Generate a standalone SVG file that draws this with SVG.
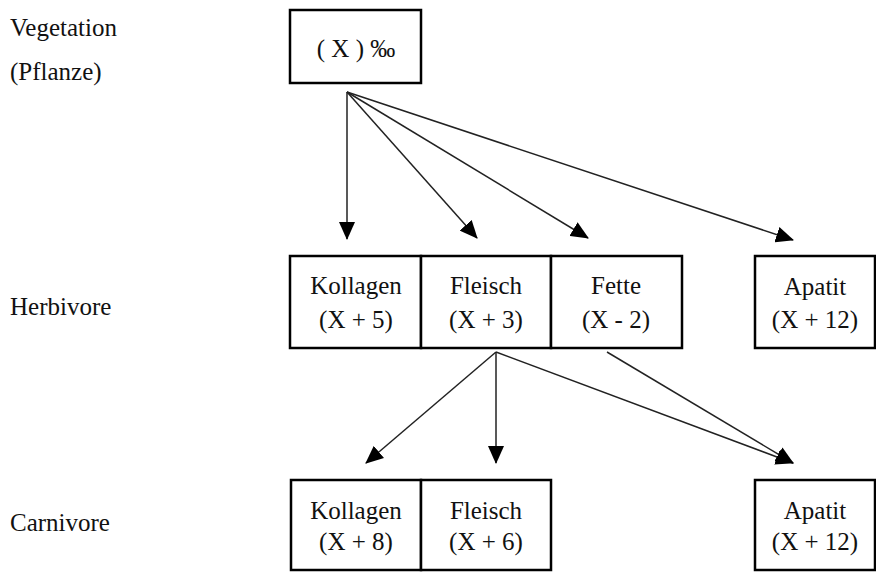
<svg xmlns="http://www.w3.org/2000/svg" width="876" height="572" viewBox="0 0 876 572">
<defs>
<style>
.box{fill:#fff;stroke:#000;stroke-width:2.5}
.t{font-family:'Liberation Serif','Times New Roman',serif;font-size:25px;fill:#111}
.c{text-anchor:middle}
.con line{stroke:#222;stroke-width:1.5;marker-end:url(#ah)}
</style>
<marker id="ah" markerUnits="userSpaceOnUse" markerWidth="18" markerHeight="16" viewBox="0 0 18 16" refX="17" refY="8" orient="auto">
<path d="M0,0 L18,8 L0,16 Z" fill="#000"/>
</marker>
</defs>
<rect width="876" height="572" fill="#fff"/>
<g id="labels">
<text class="t" x="10" y="36">Vegetation</text>
<text class="t" x="10" y="80">(Pflanze)</text>
<text class="t" x="10" y="315">Herbivore</text>
<text class="t" x="10" y="531">Carnivore</text>
</g>
<g id="vegetation"><rect class="box" x="290" y="10" width="131" height="73"/><text class="t c" x="356" y="57">( X ) ‰</text></g>
<g id="h-kollagen"><rect class="box" x="290" y="256" width="131" height="92"/><text class="t c" x="356" y="294">Kollagen</text><text class="t c" x="356" y="328">(X + 5)</text></g>
<g id="h-fleisch"><rect class="box" x="421" y="256" width="130" height="92"/><text class="t c" x="486" y="294">Fleisch</text><text class="t c" x="486" y="328">(X + 3)</text></g>
<g id="h-fette"><rect class="box" x="551" y="256" width="131" height="92"/><text class="t c" x="616" y="294">Fette</text><text class="t c" x="616" y="328">(X - 2)</text></g>
<g id="h-apatit"><rect class="box" x="755" y="256" width="120" height="92"/><text class="t c" x="815" y="295">Apatit</text><text class="t c" x="815" y="328">(X + 12)</text></g>
<g id="c-kollagen"><rect class="box" x="291" y="480" width="130" height="90"/><text class="t c" x="356" y="519">Kollagen</text><text class="t c" x="356" y="550">(X + 8)</text></g>
<g id="c-fleisch"><rect class="box" x="421" y="480" width="130" height="90"/><text class="t c" x="486" y="519">Fleisch</text><text class="t c" x="486" y="550">(X + 6)</text></g>
<g id="c-apatit"><rect class="box" x="755" y="480" width="120" height="90"/><text class="t c" x="815" y="519">Apatit</text><text class="t c" x="815" y="550">(X + 12)</text></g>
<g id="connectors" class="con">
<line x1="347" y1="92" x2="347" y2="239"/>
<line x1="347" y1="92" x2="477" y2="238"/>
<line x1="347" y1="92" x2="588" y2="238"/>
<line x1="347" y1="92" x2="793" y2="240"/>
<line x1="496" y1="352" x2="366" y2="463"/>
<line x1="496" y1="352" x2="496" y2="463"/>
<line x1="496" y1="352" x2="793" y2="463"/>
<line x1="607" y1="352" x2="793" y2="463"/>
</g>
</svg>
